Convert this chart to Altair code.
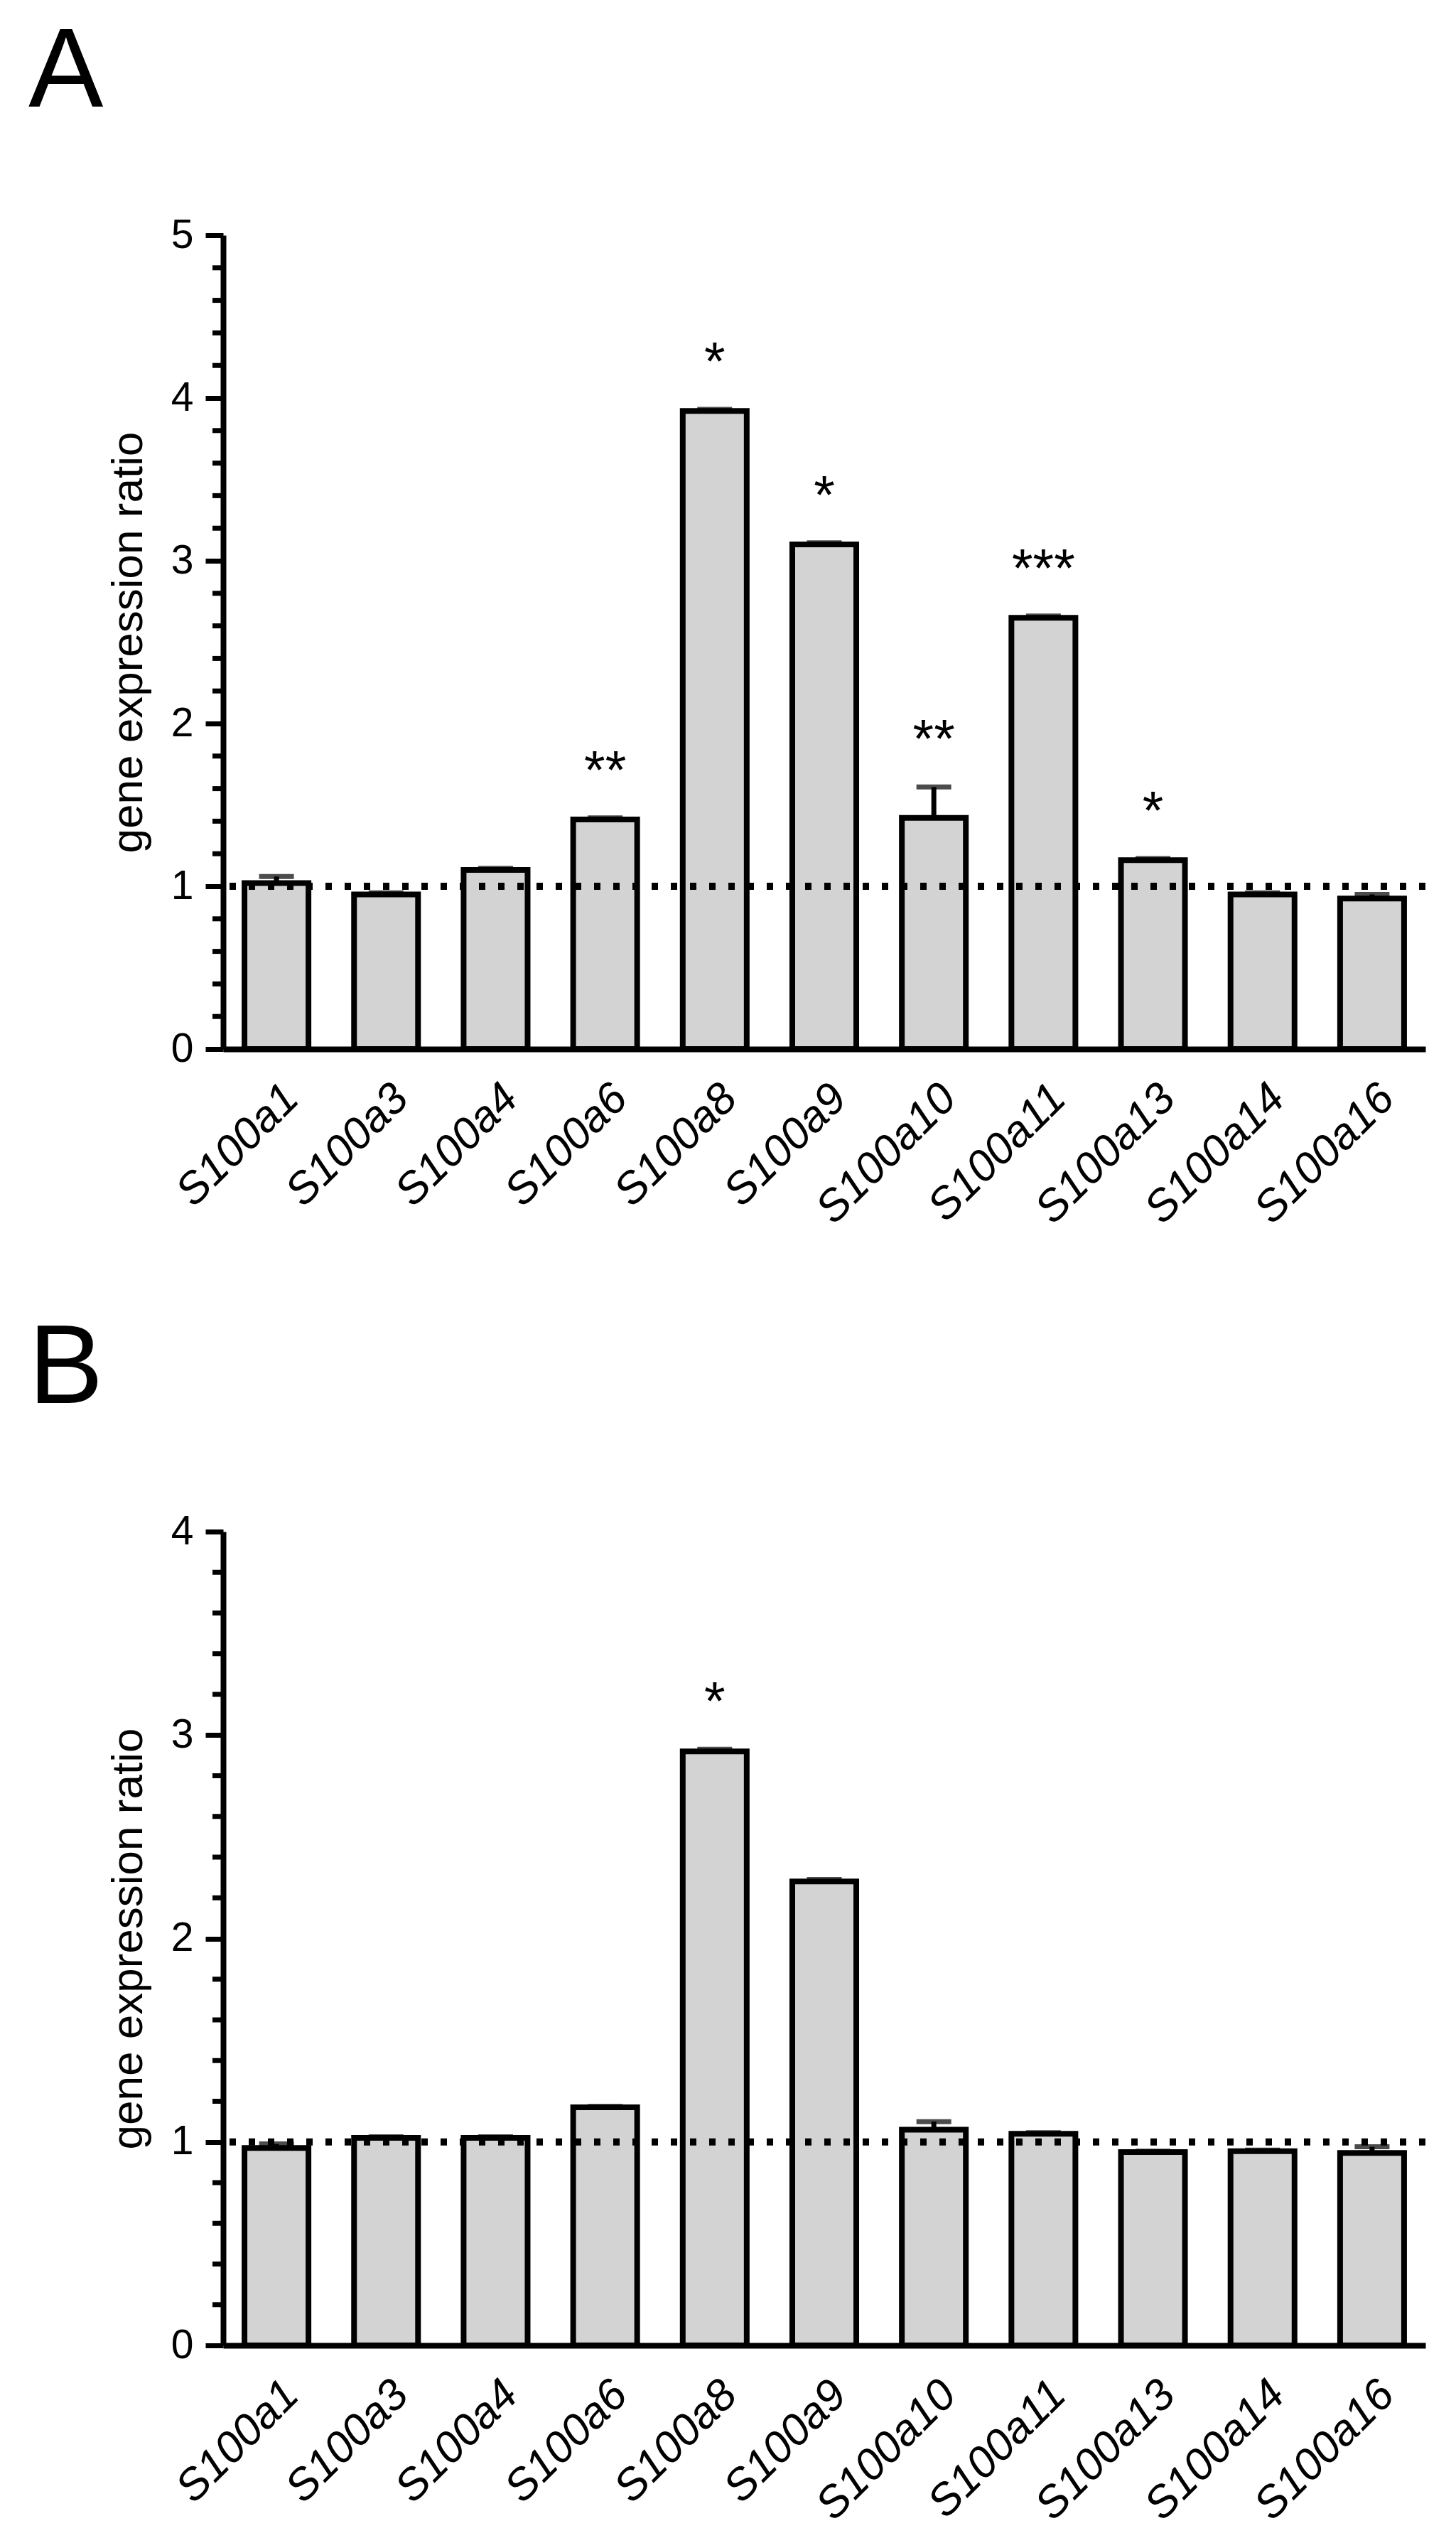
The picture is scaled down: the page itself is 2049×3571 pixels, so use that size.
import altair as alt
import pandas as pd

genes = ["S100a1", "S100a3", "S100a4", "S100a6", "S100a8", "S100a9",
         "S100a10", "S100a11", "S100a13", "S100a14", "S100a16"]

# Panel A
a_vals = [1.02, 0.95, 1.10, 1.41, 3.92, 3.10, 1.42, 2.65, 1.16, 0.95, 0.925]
a_err = [0.04, 0.01, 0.01, 0.01, 0.01, 0.01, 0.19, 0.01, 0.01, 0.01, 0.025]
a_sig = ["", "", "", "**", "*", "*", "**", "***", "*", "", ""]
a_ticks = [0, 1, 2, 3, 4, 5]

# Panel B
b_vals = [0.97, 1.02, 1.02, 1.17, 2.92, 2.28, 1.06, 1.04, 0.95, 0.955, 0.946]
b_err = [0.02, 0.005, 0.005, 0.005, 0.01, 0.01, 0.04, 0.005, 0.005, 0.005, 0.03]
b_sig = ["", "", "", "", "*", "", "", "", "", "", ""]
b_ticks = [0, 1, 2, 3, 4]

FONT = "Liberation Sans"
PLOT_W = 1692
PLOT_H = 1145


def panel(vals, errs, sigs, ticks, letter):
    ymax = ticks[-1]
    df = pd.DataFrame({
        "gene": genes,
        "value": vals,
        "err": errs,
        "sig": sigs,
    })
    df["hi"] = df["value"] + df["err"]
    minor = [i / 5 for i in range(ymax * 5 + 1) if i % 5 != 0]
    mdf = pd.DataFrame({"t": minor})

    x = alt.X("gene:N", sort=genes,
              scale=alt.Scale(paddingInner=0.416, paddingOuter=0.195),
              axis=alt.Axis(title=None, ticks=False, labelAngle=-45,
                            labelAlign="right", labelBaseline="top",
                            labelPadding=38, labelFont=FONT,
                            labelFontSize=62, labelFontStyle="italic",
                            labelColor="black", domainColor="black",
                            domainWidth=8, labelOverlap=False,
                            labelLimit=0))
    yscale = alt.Scale(domain=[0, ymax], nice=False)
    yaxis = alt.Axis(title="gene expression ratio", values=ticks, format="d",
                     grid=False, tickSize=25, tickWidth=7, tickColor="black",
                     domainColor="black", domainWidth=8,
                     labelFont=FONT, labelFontSize=57, labelColor="black",
                     labelPadding=17, titleFont=FONT, titleFontSize=62,
                     titleFontWeight="normal", titleColor="black",
                     titlePadding=28)

    bars = alt.Chart(df).mark_bar(fill="#d3d3d3", stroke="black",
                                  strokeWidth=8).encode(
        x=x,
        y=alt.Y("value:Q", scale=yscale, axis=yaxis),
    )
    err_line = alt.Chart(df).mark_rule(color="black", strokeWidth=7).encode(
        x=alt.X("gene:N", sort=genes),
        y=alt.Y("value:Q"),
        y2="hi:Q",
    )
    caps = alt.Chart(df).mark_tick(color="black", thickness=7, size=49,
                                   orient="horizontal").encode(
        x=alt.X("gene:N", sort=genes),
        y=alt.Y("hi:Q"),
    )
    dotted = alt.Chart(pd.DataFrame({"r": [1]})).mark_rule(
        color="black", strokeWidth=10, strokeDash=[9, 18]).encode(
        y=alt.Y("r:Q"),
    )
    stars = alt.Chart(df).mark_text(font=FONT, fontSize=76, color="black",
                                    baseline="alphabetic", dy=-42).encode(
        x=alt.X("gene:N", sort=genes),
        y=alt.Y("hi:Q"),
        text="sig:N",
    )
    minor_ticks = alt.Chart(mdf).mark_rule(color="black",
                                           strokeWidth=7).encode(
        x=alt.value(-15), x2=alt.value(0), y=alt.Y("t:Q"),
    )
    lab = alt.Chart(pd.DataFrame({"l": [letter]})).mark_text(
        font=FONT, fontSize=158, color="black", align="left",
        baseline="top").encode(
        x=alt.value(-274), y=alt.value(-306), text="l:N",
    )
    return alt.layer(bars, err_line, caps, dotted, stars, minor_ticks,
                     lab).properties(width=PLOT_W, height=PLOT_H)


chart = alt.vconcat(
    panel(a_vals, a_err, a_sig, a_ticks, "A"),
    panel(b_vals, b_err, b_sig, b_ticks, "B"),
    spacing=115,
).properties(
    padding={"left": 32, "top": 16, "right": 5, "bottom": 5},
    background="white",
).configure_view(stroke=None)

chart.save("out.html", embed_options={"renderer": "svg", "actions": False})
